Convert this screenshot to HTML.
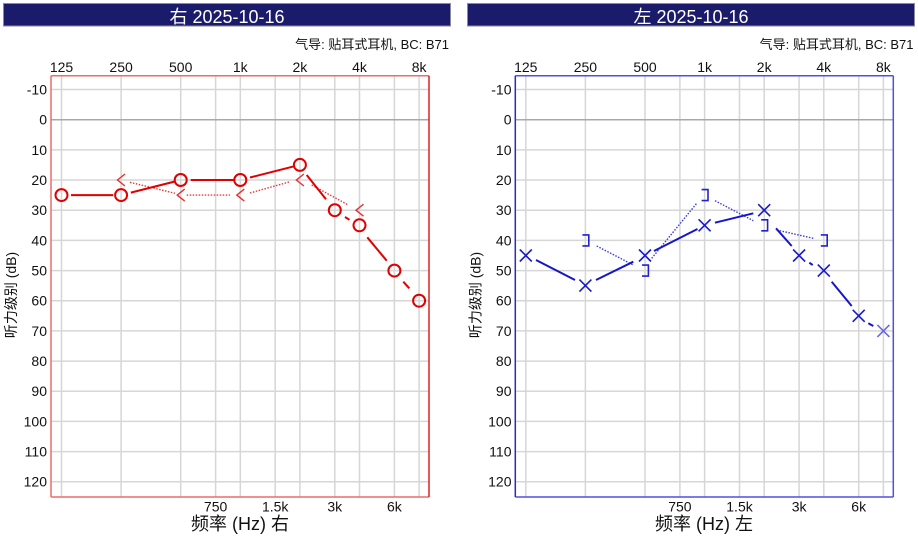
<!DOCTYPE html>
<html><head><meta charset="utf-8">
<style>
html,body{margin:0;padding:0;background:#fff;}
svg{display:block;}
text{font-family:"Liberation Sans","Noto Sans CJK SC",sans-serif;fill:#111;}
</style></head>
<body>
<svg width="918" height="541" viewBox="0 0 918 541" xmlns="http://www.w3.org/2000/svg">
<!-- ============ LEFT (RIGHT EAR) ============ -->
<rect x="3.5" y="3.5" width="447" height="22.5" fill="#1b1b6c" stroke="#8a8a9a" stroke-width="1"/>
<text x="227" y="23" font-size="18" text-anchor="middle" style="fill:#fff">右 2025-10-16</text>
<text x="449" y="49" font-size="13" text-anchor="end">气导: 贴耳式耳机, BC: B71</text>
<g font-size="14" text-anchor="middle">
<text x="61.5" y="72">125</text><text x="121.1" y="72">250</text><text x="180.7" y="72">500</text>
<text x="240.3" y="72">1k</text><text x="299.9" y="72">2k</text><text x="359.5" y="72">4k</text><text x="419.1" y="72">8k</text>
<text x="215.6" y="511.5">750</text><text x="275.2" y="511.5">1.5k</text><text x="334.8" y="511.5">3k</text><text x="394.4" y="511.5">6k</text>
</g>
<g font-size="14" text-anchor="end">
<text x="47" y="94.5">-10</text><text x="47" y="124.7">0</text><text x="47" y="154.9">10</text><text x="47" y="185">20</text>
<text x="47" y="215.2">30</text><text x="47" y="245.4">40</text><text x="47" y="275.6">50</text><text x="47" y="305.7">60</text>
<text x="47" y="335.9">70</text><text x="47" y="366.1">80</text><text x="47" y="396.2">90</text><text x="47" y="426.4">100</text>
<text x="47" y="456.6">110</text><text x="47" y="486.7">120</text>
</g>
<text x="240" y="530" font-size="18" text-anchor="middle">频率 (Hz) 右</text>
<text transform="translate(16,295) rotate(-90)" font-size="14" text-anchor="middle">听力级别 (dB)</text>
<g stroke="#d6d6d6" stroke-width="1.5" fill="none">
<path d="M61.5 76V497M121.1 76V497M180.7 76V497M215.6 76V497M240.3 76V497M275.2 76V497M299.9 76V497M334.8 76V497M359.5 76V497M394.4 76V497M419.1 76V497"/>
<path d="M51 89.5H429M51 149.9H429M51 180H429M51 210.2H429M51 240.4H429M51 270.6H429M51 300.7H429M51 330.9H429M51 361.1H429M51 391.2H429M51 421.4H429M51 451.6H429M51 481.7H429"/>
</g>
<path d="M51 119.7H429" stroke="#a8a8a8" stroke-width="1.5"/>
<path d="M51 75.7H429M51 497H429M51 75.7V497" stroke="#ee6b6b" stroke-width="1.5" fill="none"/>
<path d="M429 75.7V497" stroke="#dd2222" stroke-width="1.5"/>
<!-- BC dotted -->
<g stroke="#e43a3a" stroke-width="1.4" stroke-dasharray="1.5,1.5" fill="none">
<path d="M130 182.3L175 193.3"/><path d="M186.7 195.1L230 195.1"/><path d="M250 193L290 181.7"/><path d="M311.7 185L348.3 205"/>
</g>
<g stroke="#e83030" stroke-width="1.4" fill="none">
<path d="M125 174L117.5 180L125 186"/>
<path d="M184.7 189.1L177.2 195.1L184.7 201.1"/>
<path d="M244.3 189.1L236.8 195.1L244.3 201.1"/>
<path d="M303.9 174L296.4 180L303.9 186"/>
<path d="M363.5 204.2L356 210.2L363.5 216.2"/>
</g>
<!-- AC -->
<g stroke="#e00000" stroke-width="2" fill="none">
<path d="M71 195.1H113.3"/><path d="M130.8 192.6L174.9 181.5"/><path d="M190.7 180H233.8"/><path d="M250 177.5L294.6 166.2"/>
<path d="M306.7 175L326 199.3"/><path d="M345 217L349.5 219.8"/><path d="M367.3 237.3L386.7 260.7"/><path d="M403.3 281.7L409.3 288.3"/>
<circle cx="61.5" cy="195.1" r="6"/><circle cx="121.1" cy="195.1" r="6"/><circle cx="180.7" cy="180" r="6"/>
<circle cx="240.3" cy="180" r="6"/><circle cx="299.9" cy="164.9" r="6"/><circle cx="334.8" cy="210.2" r="6"/>
<circle cx="359.5" cy="225.3" r="6"/><circle cx="394.4" cy="270.6" r="6"/><circle cx="419.1" cy="300.7" r="6"/>
</g>

<!-- ============ RIGHT (LEFT EAR) ============ -->
<rect x="467.5" y="3.5" width="447" height="22.5" fill="#1b1b6c" stroke="#8a8a9a" stroke-width="1"/>
<text x="691" y="23" font-size="18" text-anchor="middle" style="fill:#fff">左 2025-10-16</text>
<text x="913.5" y="49" font-size="13" text-anchor="end">气导: 贴耳式耳机, BC: B71</text>
<g font-size="14" text-anchor="middle">
<text x="525.8" y="72">125</text><text x="585.4" y="72">250</text><text x="645" y="72">500</text>
<text x="704.6" y="72">1k</text><text x="764.2" y="72">2k</text><text x="823.8" y="72">4k</text><text x="883.4" y="72">8k</text>
<text x="679.9" y="511.5">750</text><text x="739.5" y="511.5">1.5k</text><text x="799.1" y="511.5">3k</text><text x="858.7" y="511.5">6k</text>
</g>
<g font-size="14" text-anchor="end">
<text x="511.5" y="94.5">-10</text><text x="511.5" y="124.7">0</text><text x="511.5" y="154.9">10</text><text x="511.5" y="185">20</text>
<text x="511.5" y="215.2">30</text><text x="511.5" y="245.4">40</text><text x="511.5" y="275.6">50</text><text x="511.5" y="305.7">60</text>
<text x="511.5" y="335.9">70</text><text x="511.5" y="366.1">80</text><text x="511.5" y="396.2">90</text><text x="511.5" y="426.4">100</text>
<text x="511.5" y="456.6">110</text><text x="511.5" y="486.7">120</text>
</g>
<text x="704" y="530" font-size="18" text-anchor="middle">频率 (Hz) 左</text>
<text transform="translate(480.5,295) rotate(-90)" font-size="14" text-anchor="middle">听力级别 (dB)</text>
<g stroke="#d6d6d6" stroke-width="1.5" fill="none">
<path d="M525.8 76V497M585.4 76V497M645 76V497M679.9 76V497M704.6 76V497M739.5 76V497M764.2 76V497M799.1 76V497M823.8 76V497M858.7 76V497M883.4 76V497"/>
<path d="M515.3 89.5H893.3M515.3 149.9H893.3M515.3 180H893.3M515.3 210.2H893.3M515.3 240.4H893.3M515.3 270.6H893.3M515.3 300.7H893.3M515.3 330.9H893.3M515.3 361.1H893.3M515.3 391.2H893.3M515.3 421.4H893.3M515.3 451.6H893.3M515.3 481.7H893.3"/>
</g>
<path d="M515.3 119.7H893.3" stroke="#a8a8a8" stroke-width="1.5"/>
<path d="M515.3 75.7H893.3M515.3 497H893.3M893.3 75.7V497" stroke="#5050dd" stroke-width="1.5" fill="none"/>
<path d="M515.3 75.7V497" stroke="#2a2acc" stroke-width="1.5"/>
<!-- BC dotted -->
<g stroke="#3a3ad8" stroke-width="1.4" stroke-dasharray="1.5,1.5" fill="none">
<path d="M596.7 246L633.3 265"/><path d="M651.7 258.3L696.7 203.3"/><path d="M715 200.7L753.3 220.7"/><path d="M776.7 230L813.3 238.3"/>
</g>
<g stroke="#2222cc" stroke-width="1.6" fill="none">
<path d="M582.4 234.9H588.8V245.9H582.4"/>
<path d="M642 265.1H648.4V276.1H642"/>
<path d="M701.6 189.6H708V200.6H701.6"/>
<path d="M761.2 219.8H767.6V230.8H761.2"/>
<path d="M820.8 234.9H827.2V245.9H820.8"/>
</g>
<!-- AC -->
<g stroke="#1515cc" stroke-width="2" fill="none">
<path d="M536 260L575 280"/><path d="M596 280L633.3 261.7"/><path d="M654 251L697.5 229"/><path d="M715 222.7L753.3 213.3"/>
<path d="M776 228.3L791.7 246"/><path d="M809.3 262.7L812.7 265"/><path d="M831.7 281.7L851.7 306"/><path d="M868.3 323.3L873.3 326"/>
</g>
<g stroke="#1a1acc" stroke-width="1.6" fill="none">
<path d="M519.8 249.5l12 12M531.8 249.5l-12 12"/>
<path d="M579.4 279.6l12 12M591.4 279.6l-12 12"/>
<path d="M639 249.5l12 12M651 249.5l-12 12"/>
<path d="M698.6 219.3l12 12M710.6 219.3l-12 12"/>
<path d="M758.2 204.2l12 12M770.2 204.2l-12 12"/>
<path d="M793.1 249.5l12 12M805.1 249.5l-12 12"/>
<path d="M817.8 264.6l12 12M829.8 264.6l-12 12"/>
<path d="M852.7 309.8l12 12M864.7 309.8l-12 12"/>
<path d="M877.4 324.9l12 12M889.4 324.9l-12 12" stroke="#6a6ae0"/>
</g>
</svg>
</body></html>
